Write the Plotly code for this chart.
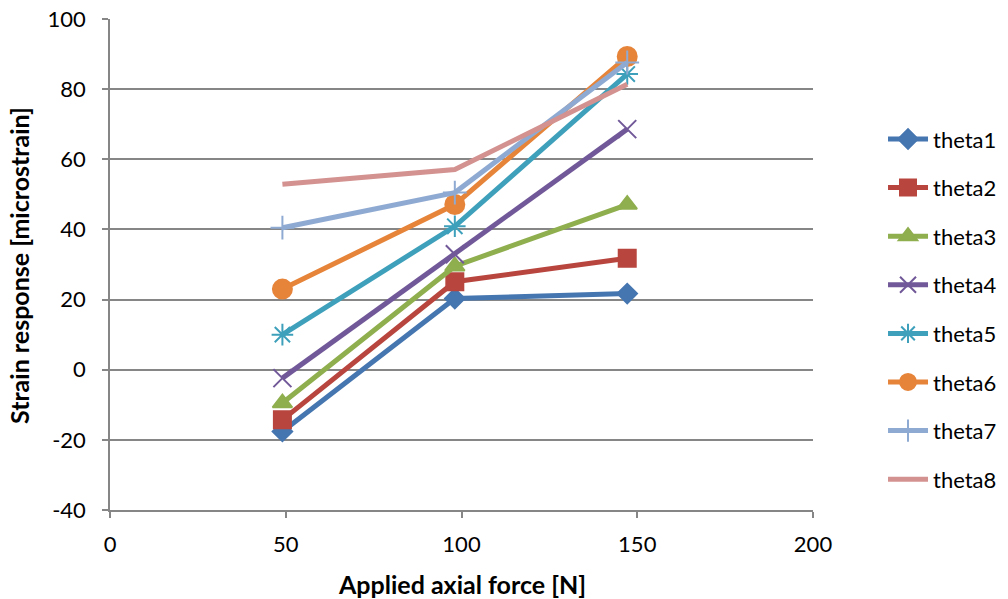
import plotly.graph_objects as go

force = [49.05, 98.1, 147.15]
series_names = ["theta1", "theta2", "theta3", "theta4", "theta5", "theta6", "theta7", "theta8"]
theta1 = [-17.6, 20.3, 21.7]
theta2 = [-14.3, 25.1, 31.8]
theta3 = [-9.5, 29.5, 47.1]
theta4 = [-2.4, 32.9, 68.6]
theta5 = [10.0, 40.9, 84.3]
theta6 = [23.0, 47.1, 89.3]
theta7 = [40.5, 50.5, 87.6]
theta8 = [52.9, 57.1, 81.4]
values = [theta1, theta2, theta3, theta4, theta5, theta6, theta7, theta8]

y_ticks = [-40, -20, 0, 20, 40, 60, 80, 100]
y_ticktext = ["-40", "-20", "0", "20", "40", "60", "80", "100"]
x_ticks = [0, 50, 100, 150, 200]

colors = ["#4676B0", "#B8463F", "#8FAE4E", "#715898", "#3EA0BB", "#E6843A", "#8FAAD2", "#D39290"]
symbols = ["diamond", "square", "triangle-up", "x-thin-open", "asterisk-open", "circle", "cross-thin-open", None]
sizes = [15, 17, 17, 18, 18, 19, 17, 0]

FONT = "Lato, Open Sans, sans-serif"
fig = go.Figure()
for i, (name, vals) in enumerate(zip(series_names, values)):
    sym = symbols[i]
    if sym is None:
        mode = "lines"
        marker = None
    else:
        mode = "lines+markers"
        marker = dict(symbol=sym, size=sizes[i], color=colors[i],
                      line=dict(color=colors[i], width=2))
    fig.add_trace(go.Scatter(
        x=force, y=vals, name=name, mode=mode,
        line=dict(color=colors[i], width=5),
        marker=marker, legendgroup=name,
    ))

axis_color = "#868686"
fig.update_layout(
    width=1008, height=599,
    paper_bgcolor="white", plot_bgcolor="white",
    margin=dict(l=110, r=195, t=19, b=89, autoexpand=False),
    font=dict(family=FONT, size=22, color="#000000"),
    legend=dict(x=1.0996, y=0.798, xanchor="left", yanchor="top",
                font=dict(size=22), tracegroupgap=17, itemwidth=40,
                bgcolor="rgba(0,0,0,0)"),
    showlegend=True,
    annotations=[
        dict(text="<b>Applied axial force [N]</b>", xref="paper", yref="paper",
             x=0.5, y=-0.1507, xanchor="center", yanchor="middle",
             showarrow=False, font=dict(size=25)),
        dict(text="<b>Strain response [microstrain]</b>", xref="paper", yref="paper",
             x=-0.1294, y=0.497, xanchor="center", yanchor="middle", textangle=-90,
             showarrow=False, font=dict(size=25)),
    ],
)
fig.update_xaxes(
    range=[0, 200], tickvals=x_ticks, showgrid=False, zeroline=False,
    showline=True, linecolor=axis_color, linewidth=1.5,
    ticks="outside", ticklen=6, tickcolor=axis_color, tickwidth=1.5,
    ticklabelstandoff=8, automargin=False,
)
fig.update_yaxes(
    range=[-40, 100], tickvals=y_ticks, ticktext=y_ticktext, showgrid=True,
    gridcolor=axis_color, gridwidth=1.5, zeroline=False,
    showline=True, linecolor=axis_color, linewidth=1.5,
    ticks="outside", ticklen=6, tickcolor=axis_color, tickwidth=1.5,
    ticklabelstandoff=12, automargin=False,
)
fig.write_html("out.html")
